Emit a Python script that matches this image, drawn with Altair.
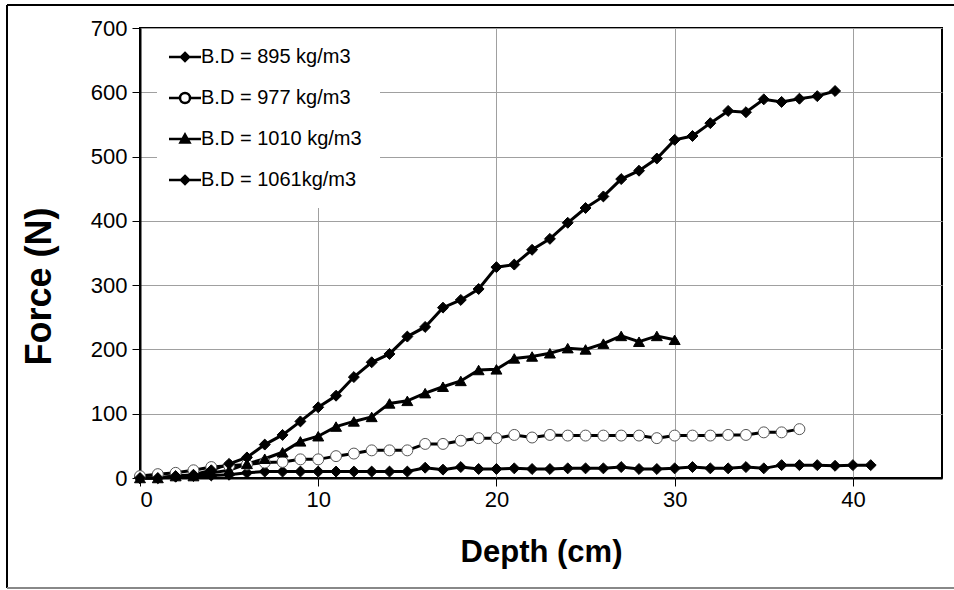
import altair as alt
import pandas as pd

series_names = ["B.D = 895 kg/m3", "B.D = 977 kg/m3", "B.D = 1010 kg/m3", "B.D = 1061kg/m3"]

depth_895 = list(range(0, 42))
force_895 = [0, 0, 2, 3, 4, 5, 8, 10, 10, 10, 10, 10, 10, 10, 10, 10, 16, 13, 17, 14,
             14, 15, 14, 14, 15, 15, 15, 17, 14, 14, 15, 17, 15, 15, 17, 15, 20, 20, 20, 19,
             20, 20]

depth_977 = list(range(0, 38))
force_977 = [3, 6, 8, 12, 17, 19, 21, 24, 25, 29, 29, 34, 38, 43, 43, 43, 53, 53, 58, 62,
             62, 67, 63, 67, 66, 66, 66, 66, 66, 62, 66, 66, 66, 67, 67, 71, 71, 76]

depth_1010 = list(range(0, 31))
force_1010 = [0, 0, 3, 3, 8, 12, 22, 30, 40, 57, 65, 80, 88, 95, 116, 120, 132, 142, 151, 168,
              169, 186, 189, 194, 202, 200, 209, 221, 212, 221, 215]

depth_1061 = list(range(0, 40))
force_1061 = [0, 0, 3, 5, 12, 22, 32, 52, 67, 88, 110, 128, 157, 180, 193, 220, 235, 265, 277, 294,
              328, 332, 355, 372, 397, 420, 438, 465, 478, 497, 526, 532, 552, 571, 569, 589, 585, 590, 594, 602]

x_ticks = [0, 10, 20, 30, 40]
y_ticks = [0, 100, 200, 300, 400, 500, 600, 700]

rows = []
for name, xs, ys in zip(series_names,
                        [depth_895, depth_977, depth_1010, depth_1061],
                        [force_895, force_977, force_1010, force_1061]):
    for d, f in zip(xs, ys):
        rows.append({"series": name, "depth": d, "force": f})
df = pd.DataFrame(rows)

FONT = "Liberation Sans"

x_enc = alt.X("depth:Q", scale=alt.Scale(domain=[0, 45], nice=False, zero=False),
              axis=alt.Axis(values=x_ticks, title="Depth (cm)", grid=True, gridColor="#a0a0a0",
                            gridWidth=1, domainColor="black", domainWidth=2, tickColor="black",
                            tickSize=8, labelFontSize=22, labelFont=FONT, labelColor="black",
                            labelPadding=3, titleFont=FONT, titleFontSize=31, titleFontWeight="bold",
                            titleColor="black", titlePadding=27))
y_enc = alt.Y("force:Q", scale=alt.Scale(domain=[0, 700], nice=False),
              axis=alt.Axis(values=y_ticks, title="Force (N)", grid=True, gridColor="#a0a0a0",
                            gridWidth=1, domainColor="black", domainWidth=2, tickColor="black",
                            tickSize=8, labelFontSize=22, labelFont=FONT, labelColor="black",
                            labelPadding=5, titleFont=FONT, titleFontSize=36, titleFontWeight="bold",
                            titleColor="black", titlePadding=32, titleY=258))

base = alt.Chart(df).encode(x=x_enc, y=y_enc, detail="series:N")

lines = base.mark_line(color="black", strokeWidth=3)

points = base.mark_point(filled=True, opacity=1, strokeWidth=1).encode(
    shape=alt.Shape("series:N", scale=alt.Scale(domain=series_names,
                    range=["diamond", "circle", "triangle-up", "diamond"]), legend=None),
    fill=alt.Fill("series:N", scale=alt.Scale(domain=series_names,
                  range=["black", "white", "black", "black"]), legend=None),
    stroke=alt.Stroke("series:N", scale=alt.Scale(domain=series_names,
                      range=["black", "#555555", "black", "black"]), legend=None),
    size=alt.Size("series:N", scale=alt.Scale(domain=series_names,
                  range=[120, 120, 150, 120]), legend=None),
)

diamond_leg = "M-3.2,0H3.2M0,-0.8L0.8,0L0,0.8L-0.8,0Z"
circle_leg = "M-3.2,0H-1M1,0H3.2M-1,0A1,1 0 1,0 1,0A1,1 0 1,0 -1,0Z"
tri_leg = "M-3.2,0H3.2M0,-0.9L0.9,0.7L-0.9,0.7Z"

legend_layer = alt.Chart(df).transform_filter("datum.depth < 0").mark_point(
    filled=False, strokeWidth=2.5, opacity=1).encode(
    x="depth:Q", y="force:Q",
    shape=alt.Shape("series:N", scale=alt.Scale(domain=series_names,
                    range=[diamond_leg, circle_leg, tri_leg, diamond_leg]),
                    legend=alt.Legend(title=None, orient="none", legendX=17, legendY=1,
                                      fillColor="white", padding=18, rowPadding=21,
                                      labelFont=FONT, labelFontSize=20, labelColor="black",
                                      labelOffset=6, labelLimit=400, symbolSize=100,
                                      symbolStrokeWidth=2.5, symbolOpacity=1)),
    fill=alt.Fill("series:N", scale=alt.Scale(domain=series_names,
                  range=["black", "white", "black", "black"])),
    stroke=alt.Stroke("series:N", scale=alt.Scale(domain=series_names,
                      range=["black", "black", "black", "black"])),
)

frame = alt.Chart(pd.DataFrame({"k": [0]})).mark_rule(color="black", strokeWidth=2).encode(
    x=alt.value(-133), x2=alt.value(814), y=alt.value(-23))
frame_l = alt.Chart(pd.DataFrame({"k": [0]})).mark_rule(color="black", strokeWidth=2).encode(
    x=alt.value(-133), y=alt.value(-23), y2=alt.value(560))
frame_b = alt.Chart(pd.DataFrame({"k": [0]})).mark_rule(color="#888888", strokeWidth=2).encode(
    x=alt.value(-133), x2=alt.value(814), y=alt.value(560))

chart = alt.layer(lines, points, legend_layer, frame, frame_l, frame_b).resolve_scale(
    shape="independent", fill="independent", stroke="independent"
).properties(
    width=802, height=450,
    autosize=alt.AutoSizeParams(type="none"),
    padding={"left": 140, "top": 28, "right": 12, "bottom": 112},
    background="white",
).configure_view(stroke="black", strokeWidth=2)

chart.save("out.html", embed_options={"renderer": "svg", "actions": False})
